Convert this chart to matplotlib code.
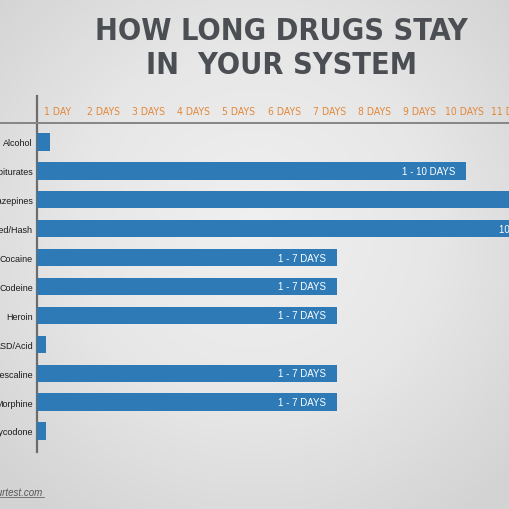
import numpy as np
import matplotlib
matplotlib.use("Agg")
import matplotlib.pyplot as plt
from matplotlib.colors import LinearSegmentedColormap
from matplotlib.lines import Line2D

drugs = ["Alcohol", "Barbiturates", "Benzodiazepines", "Weed/Hash", "Cocaine",
         "Codeine", "Heroin", "LSD/Acid", "Mescaline", "Morphine", "Oxycodone"]
days = [0.3, 10, 42, 12.4, 7, 7, 7, 0.2, 7, 7, 0.2]
bar_labels = ["", "1 - 10 DAYS", "", "10 - 90 DAYS", "1 - 7 DAYS", "1 - 7 DAYS",
              "1 - 7 DAYS", "", "1 - 7 DAYS", "1 - 7 DAYS", ""]
day_ticks = ["1 DAY", "2 DAYS", "3 DAYS", "4 DAYS", "5 DAYS", "6 DAYS",
             "7 DAYS", "8 DAYS", "9 DAYS", "10 DAYS", "11 DAYS"]

W = H = 510
PX_DAY = 42.9      # pixels per day
ROW = 28.9         # pixels per row
sans = ["Liberation Sans", "DejaVu Sans"]

fig = plt.figure(figsize=(5.1, 5.1), dpi=100)

# background: soft radial gray gradient
bg = fig.add_axes([0, 0, 1, 1])
yy, xx = np.mgrid[-1:1:256j, -1:1:256j]
r = np.sqrt(xx**2 + (yy + 0.1)**2)
cmap = LinearSegmentedColormap.from_list("bg", ["#f0f0f0", "#e7e7e7", "#d3d3d3"])
bg.imshow(r, cmap=cmap, extent=[0, 1, 0, 1], aspect="auto", vmin=0, vmax=1.4)
bg.axis("off")

# main axes: left axis line at x=37px, rows from y=97 to 453px
ax = fig.add_axes([37 / W, 1 - 453 / H, (W - 37) / W, 356 / H])
ax.patch.set_alpha(0)
ax.set_xlim(0, (W - 37) / PX_DAY)
ax.set_ylim((453 - 143) / ROW, (97 - 143) / ROW)

y = np.arange(len(drugs))
ax.barh(y, days, height=0.6, color="#2d7ab7", edgecolor="none", zorder=3)

for i, lab in enumerate(bar_labels):
    if lab:
        ax.text(days[i] - 11 / PX_DAY, i, lab, ha="right", va="center",
                color="white", fontsize=7, family=sans, zorder=4)

# day labels across the top
for i, lab in enumerate(day_ticks):
    ax.text((21 + i * 45.2) / PX_DAY, (112 - 143) / ROW, lab, ha="center", va="center",
            color="#e3883a", fontsize=7.5, family="DejaVu Sans", stretch="condensed",
            clip_on=False)

ax.set_yticks(y)
ax.set_yticklabels(drugs, fontsize=6.5, family=sans, color="#1a1a1a")
ax.tick_params(axis="y", length=0, pad=3)
ax.set_xticks([])
for s in ["top", "right", "bottom"]:
    ax.spines[s].set_visible(False)
ax.spines["left"].set_color("#6c6c6c")
ax.spines["left"].set_linewidth(1.6)

# horizontal rule under the day labels
fig.add_artist(Line2D([0, 1], [1 - 124 / H] * 2, color="#858585", lw=1.4))

# title
for line, py in [("HOW LONG DRUGS STAY", 32), ("IN  YOUR SYSTEM", 66)]:
    fig.text(281 / W, 1 - py / H, line, ha="center", va="center",
             fontsize=22, fontweight="bold", family="DejaVu Sans", stretch="condensed",
             color="#4b4e53")

# source footer
fig.text(43 / W, 1 - 493 / H, "passyourtest.com", ha="right", va="center",
         fontsize=7, style="italic", family=sans, color="#555555")
fig.add_artist(Line2D([0, 44 / W], [1 - 498 / H] * 2, color="#666666", lw=0.6))

fig.savefig("out.png", dpi=100)
